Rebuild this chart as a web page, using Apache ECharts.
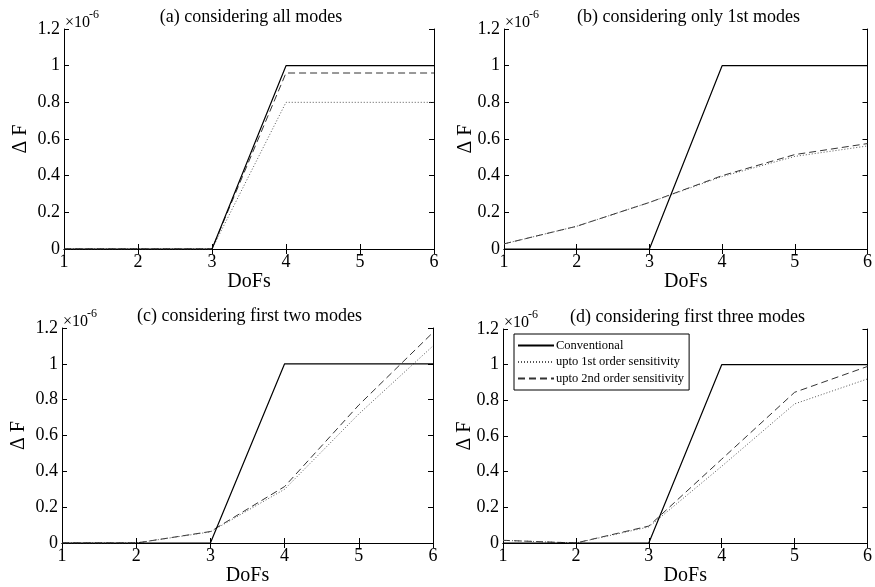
<!DOCTYPE html>
<html>
<head>
<meta charset="utf-8">
<script src="https://cdn.jsdelivr.net/npm/echarts@6/dist/echarts.min.js"></script>
<style>
  html, body { margin: 0; padding: 0; background: #fff; }
  #chart { width: 875px; height: 587px; }
</style>
</head>
<body>
<div id="chart"></div>
<script>
const dofs = [1, 2, 3, 4, 5, 6];
const seriesNames = ["Conventional", "upto 1st order sensitivity", "upto 2nd order sensitivity"];
const panelTitles = [
  "(a) considering all modes",
  "(b) considering only 1st modes",
  "(c) considering first two modes",
  "(d) considering first three modes"
];

// values in units of 1e-6
const conventionalA = [0, 0, 0, 1, 1, 1];
const firstOrderA = [0, 0, 0, 0.8, 0.8, 0.8];
const secondOrderA = [0, 0, 0, 0.96, 0.96, 0.96];

const conventionalB = [0, 0, 0, 1, 1, 1];
const firstOrderB = [0.028, 0.124, 0.254, 0.395, 0.505, 0.562];
const secondOrderB = [0.028, 0.124, 0.254, 0.4, 0.515, 0.575];

const conventionalC = [0, 0, 0, 1, 1, 1];
const firstOrderC = [0, 0, 0.062, 0.3, 0.72, 1.1];
const secondOrderC = [0, 0, 0.064, 0.315, 0.77, 1.175];

const conventionalD = [0, 0, 0, 1, 1, 1];
const firstOrderD = [0.015, 0, 0.09, 0.43, 0.78, 0.92];
const secondOrderD = [0.015, 0, 0.095, 0.47, 0.845, 0.99];

const panelData = [
  [conventionalA, firstOrderA, secondOrderA],
  [conventionalB, firstOrderB, secondOrderB],
  [conventionalC, firstOrderC, secondOrderC],
  [conventionalD, firstOrderD, secondOrderD]
];

// plot boxes in pixels: left, top, right, bottom
const boxes = [
  { l: 64, t: 29, r: 434, b: 249, yGap: 33 },
  { l: 504, t: 29, r: 869, b: 249, yGap: 28 },
  { l: 62, t: 328, r: 433, b: 547, yGap: 33 },
  { l: 503, t: 329, r: 868, b: 547, yGap: 28 }
];

const FONT = "Liberation Serif";
const lineStyles = [
  { color: "#000", width: 1.2, type: "solid" },
  { color: "#555", width: 1, type: [1, 2] },
  { color: "#333", width: 1, type: [7, 4] }
];

const grids = [];
const xAxes = [];
const yAxes = [];
const series = [];
const graphics = [];

boxes.forEach((box, i) => {
  grids.push({
    left: box.l, top: box.t,
    width: box.r - box.l, height: box.b - box.t,
    containLabel: false
  });
  const tick = { show: true, inside: true, length: 5, lineStyle: { color: "#000", width: 1 } };
  const axLine = { show: true, lineStyle: { color: "#000", width: 1 } };
  xAxes.push({
    gridIndex: i, type: "value", min: 1, max: 6, interval: 1, position: "bottom",
    axisLine: axLine, axisTick: tick, splitLine: { show: false },
    axisLabel: { color: "#000", fontFamily: FONT, fontSize: 18, margin: 4 },
    name: "DoFs", nameLocation: "middle", nameGap: 23, nameMoveOverlap: false,
    nameTextStyle: { color: "#000", fontFamily: FONT, fontSize: 20 }
  });
  xAxes.push({
    gridIndex: i, type: "value", min: 1, max: 6, interval: 1, position: "top",
    axisLine: axLine, axisTick: tick, splitLine: { show: false },
    axisLabel: { show: false }
  });
  yAxes.push({
    gridIndex: i, type: "value", min: 0, max: 1.2, interval: 0.2, position: "left",
    axisLine: axLine, axisTick: tick, splitLine: { show: false },
    axisLabel: {
      color: "#000", fontFamily: FONT, fontSize: 18, margin: 4,
      formatter: v => String(Math.round(v * 10) / 10)
    },
    name: "\u0394 F", nameLocation: "middle", nameGap: box.yGap, nameMoveOverlap: false,
    nameTextStyle: { color: "#000", fontFamily: FONT, fontSize: 20 }
  });
  yAxes.push({
    gridIndex: i, type: "value", min: 0, max: 1.2, interval: 0.2, position: "right",
    axisLine: axLine, axisTick: tick, splitLine: { show: false },
    axisLabel: { show: false }
  });

  panelData[i].forEach((vals, k) => {
    series.push({
      name: seriesNames[k],
      type: "line",
      xAxisIndex: i * 2,
      yAxisIndex: i * 2,
      data: dofs.map((d, j) => [d, vals[j]]),
      symbol: "none",
      silent: true,
      animation: false,
      lineStyle: lineStyles[k],
      itemStyle: { color: lineStyles[k].color },
      z: 3 - k
    });
  });

  graphics.push({
    type: "text",
    x: (box.l + box.r) / 2 + 2, y: box.t - 12,
    style: {
      text: panelTitles[i], fill: "#000", font: "18px " + FONT,
      textAlign: "center", textVerticalAlign: "middle"
    }
  });
  graphics.push({
    type: "text",
    x: box.l + 1, y: box.t - 6,
    style: {
      text: "\u00d710", fill: "#000", font: "16px " + FONT,
      textAlign: "left", textVerticalAlign: "middle"
    }
  });
  graphics.push({
    type: "text",
    x: box.l + 25, y: box.t - 14,
    style: {
      text: "-6", fill: "#000", font: "12px " + FONT,
      textAlign: "left", textVerticalAlign: "middle"
    }
  });
});

const chart = echarts.init(document.getElementById("chart"), null, { renderer: "canvas" });
chart.setOption({
  animation: false,
  backgroundColor: "#fff",
  grid: grids,
  xAxis: xAxes,
  yAxis: yAxes,
  series: series,
  graphic: graphics,
  legend: {
    data: seriesNames,
    orient: "vertical",
    left: 514, top: 334,
    backgroundColor: "#fff",
    borderColor: "#000", borderWidth: 1,
    padding: [5, 5, 5, 3],
    itemWidth: 36, itemHeight: 14, itemGap: 3.5,
    itemStyle: { opacity: 0 },
    textStyle: { color: "#000", fontFamily: FONT, fontSize: 12.5, padding: [0, 0, 0, -3] },
    selectedMode: false
  }
});
</script>
</body>
</html>
